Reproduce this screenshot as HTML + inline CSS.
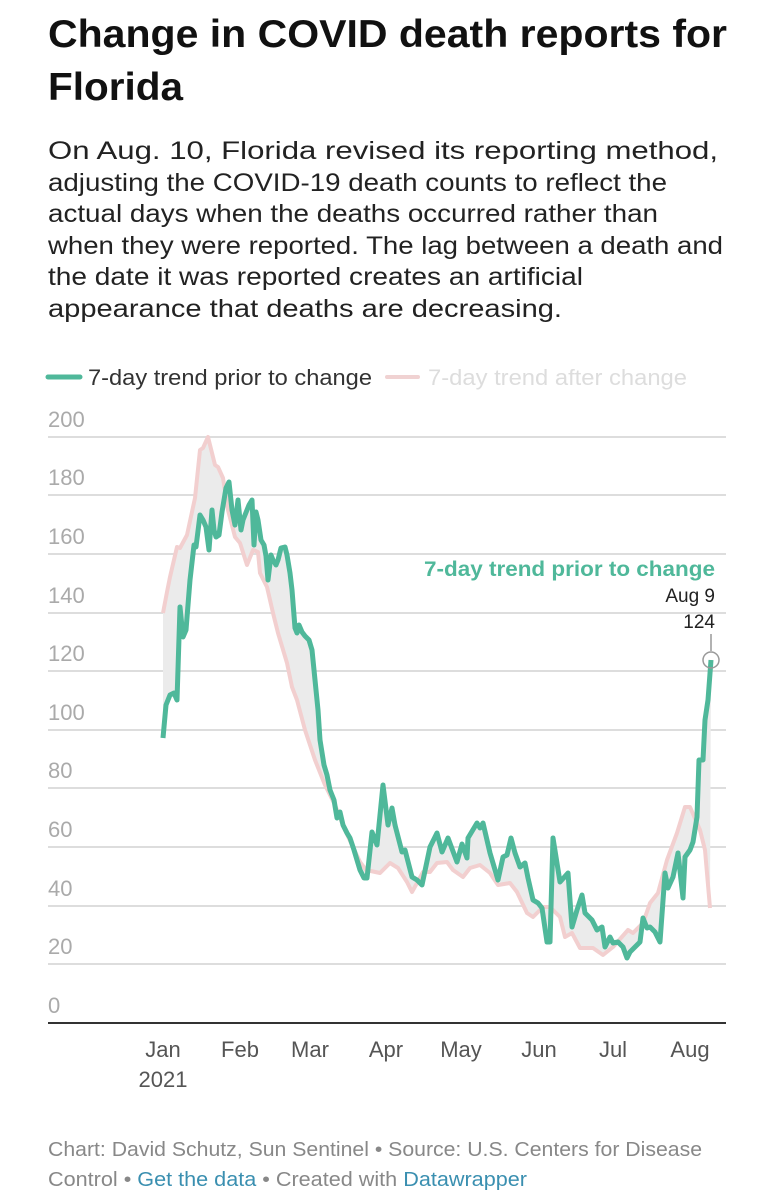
<!DOCTYPE html>
<html><head><meta charset="utf-8"><style>
body{margin:0;background:#fff;width:778px;height:1200px;overflow:hidden;font-family:"Liberation Sans",sans-serif;}
</style></head><body>
<svg width="778" height="1200" style="position:absolute;left:0;top:0" font-family="Liberation Sans, sans-serif">
<g font-size="39" font-weight="bold" fill="#111">
<text x="48" y="47" textLength="679" lengthAdjust="spacingAndGlyphs">Change in COVID death reports for</text>
<text x="48" y="100" textLength="135" lengthAdjust="spacingAndGlyphs">Florida</text>
</g>
<g font-size="25" fill="#222" lengthAdjust="spacingAndGlyphs">
<text x="48" y="159" textLength="670" lengthAdjust="spacingAndGlyphs">On Aug. 10, Florida revised its reporting method,</text>
<text x="48" y="191" textLength="619" lengthAdjust="spacingAndGlyphs">adjusting the COVID-19 death counts to reflect the</text>
<text x="48" y="222" textLength="610" lengthAdjust="spacingAndGlyphs">actual days when the deaths occurred rather than</text>
<text x="48" y="254" textLength="675" lengthAdjust="spacingAndGlyphs">when they were reported. The lag between a death and</text>
<text x="48" y="285" textLength="535" lengthAdjust="spacingAndGlyphs">the date it was reported creates an artificial</text>
<text x="48" y="317" textLength="514" lengthAdjust="spacingAndGlyphs">appearance that deaths are decreasing.</text>
</g>
<line x1="48" y1="377" x2="80" y2="377" stroke="#4fb89a" stroke-width="5" stroke-linecap="round"/>
<text x="88" y="385" font-size="22" fill="#333" textLength="284" lengthAdjust="spacingAndGlyphs">7-day trend prior to change</text>
<line x1="387" y1="377" x2="418" y2="377" stroke="#f0d2d2" stroke-width="4" stroke-linecap="round"/>
<text x="428" y="385" font-size="22" fill="#ddd" textLength="259" lengthAdjust="spacingAndGlyphs">7-day trend after change</text>
<g stroke="#ddd" stroke-width="2">
<line x1="48" y1="437" x2="726" y2="437"/><line x1="48" y1="495" x2="726" y2="495"/><line x1="48" y1="554" x2="726" y2="554"/><line x1="48" y1="613" x2="726" y2="613"/><line x1="48" y1="671" x2="726" y2="671"/><line x1="48" y1="730" x2="726" y2="730"/><line x1="48" y1="788" x2="726" y2="788"/><line x1="48" y1="847" x2="726" y2="847"/><line x1="48" y1="906" x2="726" y2="906"/><line x1="48" y1="964" x2="726" y2="964"/>
</g>
<line x1="48" y1="1023" x2="726" y2="1023" stroke="#333" stroke-width="2"/>
<g font-size="22" fill="#aaa">
<text x="48" y="427">200</text><text x="48" y="485">180</text><text x="48" y="544">160</text><text x="48" y="603">140</text><text x="48" y="661">120</text><text x="48" y="720">100</text><text x="48" y="778">80</text><text x="48" y="837">60</text><text x="48" y="896">40</text><text x="48" y="954">20</text><text x="48" y="1013">0</text>
</g>
<g font-size="22" fill="#555" text-anchor="middle">
<text x="163" y="1057">Jan</text><text x="163" y="1087">2021</text><text x="240" y="1057">Feb</text><text x="310" y="1057">Mar</text><text x="386" y="1057">Apr</text><text x="461" y="1057">May</text><text x="539" y="1057">Jun</text><text x="613" y="1057">Jul</text><text x="690" y="1057">Aug</text>
</g>
<polygon fill="#ebebeb" points="163,738 166,705 170,695 174,693 177,700 180,607 183,637 186,630 190,580 194,545 196,547 200,515 203,520 206,527 209,550 212,510 214,530 216,537 219,535 222,512 226,488 229,482 232,510 235,525 238,500 241,530 243,520 245,515 249,505 252,500 254,545 256,512 258,520 261,540 264,545 266,556 268,580 271,555 273,560 276,565 278,560 281,548 285,547 287,555 290,573 292,590 295,628 297,633 299,625 302,632 305,636 309,640 312,650 315,680 318,710 320,740 324,765 327,775 330,790 334,800 337,818 340,812 343,825 347,833 350,838 354,850 357,860 360,870 364,878 367,878 372,832 377,845 383,785 388,825 392,808 395,825 402,852 405,850 412,877 417,880 422,885 430,847 437,833 442,852 448,838 457,862 462,844 467,858 468,838 477,823 480,828 483,823 490,853 498,880 503,857 507,855 511,838 515,853 520,867 525,863 528,878 533,900 538,903 542,908 547,942 550,942 553,838 560,882 568,873 572,927 577,910 582,895 585,913 592,920 597,930 602,927 605,947 610,937 613,943 618,942 623,947 627,958 630,952 637,945 640,942 643,918 647,928 650,927 655,932 660,942 665,873 668,888 673,877 678,853 683,898 685,857 690,850 693,842 697,817 699,760 703,760 705,720 708,700 711,660 710,908 705,850 700,830 690,807 685,807 677,833 667,860 658,893 650,903 643,923 633,933 628,930 613,947 603,955 593,948 580,948 572,933 565,937 560,917 550,907 543,907 533,917 527,913 517,892 510,883 498,885 490,873 480,865 470,868 463,877 453,870 447,862 437,863 430,872 423,872 417,883 412,892 407,882 398,868 390,863 380,873 366,870 360,862 352,845 345,830 335,805 325,785 315,760 305,730 297,700 292,687 287,663 278,633 273,613 267,587 260,573 258,552 253,550 247,565 240,543 235,537 228,510 223,478 218,467 215,465 208,437 203,448 200,450 195,498 187,535 180,548 177,547 170,577 167,592 163,613"/>
<polyline fill="none" stroke="#f2cfcf" stroke-width="4" stroke-linejoin="round" points="163,613 167,592 170,577 177,547 180,548 187,535 195,498 200,450 203,448 208,437 215,465 218,467 223,478 228,510 235,537 240,543 247,565 253,550 258,552 260,573 267,587 273,613 278,633 287,663 292,687 297,700 305,730 315,760 325,785 335,805 345,830 352,845 360,862 366,870 380,873 390,863 398,868 407,882 412,892 417,883 423,872 430,872 437,863 447,862 453,870 463,877 470,868 480,865 490,873 498,885 510,883 517,892 527,913 533,917 543,907 550,907 560,917 565,937 572,933 580,948 593,948 603,955 613,947 628,930 633,933 643,923 650,903 658,893 667,860 677,833 685,807 690,807 700,830 705,850 710,908"/>
<polyline fill="none" stroke="#4fb89a" stroke-width="5" stroke-linejoin="round" points="163,738 166,705 170,695 174,693 177,700 180,607 183,637 186,630 190,580 194,545 196,547 200,515 203,520 206,527 209,550 212,510 214,530 216,537 219,535 222,512 226,488 229,482 232,510 235,525 238,500 241,530 243,520 245,515 249,505 252,500 254,545 256,512 258,520 261,540 264,545 266,556 268,580 271,555 273,560 276,565 278,560 281,548 285,547 287,555 290,573 292,590 295,628 297,633 299,625 302,632 305,636 309,640 312,650 315,680 318,710 320,740 324,765 327,775 330,790 334,800 337,818 340,812 343,825 347,833 350,838 354,850 357,860 360,870 364,878 367,878 372,832 377,845 383,785 388,825 392,808 395,825 402,852 405,850 412,877 417,880 422,885 430,847 437,833 442,852 448,838 457,862 462,844 467,858 468,838 477,823 480,828 483,823 490,853 498,880 503,857 507,855 511,838 515,853 520,867 525,863 528,878 533,900 538,903 542,908 547,942 550,942 553,838 560,882 568,873 572,927 577,910 582,895 585,913 592,920 597,930 602,927 605,947 610,937 613,943 618,942 623,947 627,958 630,952 637,945 640,942 643,918 647,928 650,927 655,932 660,942 665,873 668,888 673,877 678,853 683,898 685,857 690,850 693,842 697,817 699,760 703,760 705,720 708,700 711,660"/>
<text x="715" y="576" font-size="21" font-weight="bold" fill="#4fb89a" text-anchor="end" textLength="291" lengthAdjust="spacingAndGlyphs">7-day trend prior to change</text>
<text x="715" y="602" font-size="19" fill="#222" text-anchor="end">Aug 9</text>
<text x="715" y="628" font-size="19" fill="#222" text-anchor="end">124</text>
<line x1="711" y1="634" x2="711" y2="651" stroke="#999" stroke-width="1.5"/>
<circle cx="711" cy="660" r="8" fill="none" stroke="#999" stroke-width="1.5"/>
<g font-size="20" fill="#888">
<text x="48" y="1156" textLength="654" lengthAdjust="spacingAndGlyphs">Chart: David Schutz, Sun Sentinel • Source: U.S. Centers for Disease</text>
<text x="48" y="1186" textLength="479" lengthAdjust="spacingAndGlyphs">Control • <tspan fill="#3a8fb0">Get the data</tspan> • Created with <tspan fill="#3a8fb0">Datawrapper</tspan></text>
</g>
</svg>
</body></html>
